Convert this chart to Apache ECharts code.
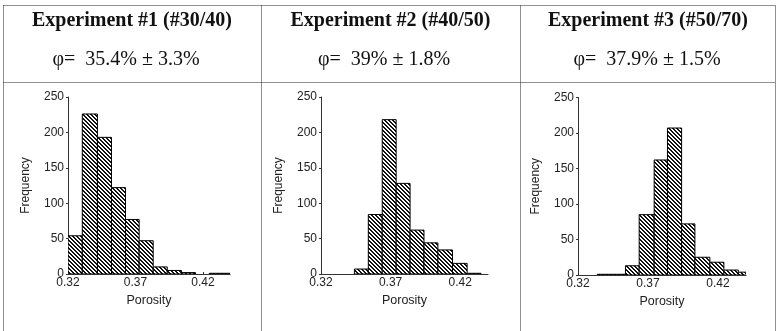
<!DOCTYPE html>
<html>
<head>
<meta charset="utf-8">
<script src="https://cdn.jsdelivr.net/npm/echarts@6/dist/echarts.min.js"></script>
<style>
html,body{margin:0;padding:0;background:#fff;}
#chart{width:778px;height:331px;}
</style>
</head>
<body>
<div id="chart"></div>
<script>
// ---- Data ----
const experimentTitles = ["Experiment #1 (#30/40)", "Experiment #2 (#40/50)", "Experiment #3 (#50/70)"];
const porosityTexts = ["\u03c6=  35.4% \u00b1 3.3%", "\u03c6=  39% \u00b1 1.8%", "\u03c6=  37.9% \u00b1 1.5%"];

// bin edges (porosity) and frequencies for each experiment
const exp1Edges = [0.32, 0.3306, 0.3418, 0.3522, 0.3626, 0.3727, 0.3831, 0.3935, 0.4041, 0.4145, 0.4247, 0.435, 0.445];
const exp1Freq  = [54, 226, 193, 122, 77, 47, 10, 5, 2, 0, 1, 1];

const exp2Edges = [0.344, 0.354, 0.364, 0.374, 0.384, 0.394, 0.404, 0.4145, 0.425, 0.435];
const exp2Freq  = [7, 84, 218, 128, 62, 44, 34, 15, 1];

const exp3Edges = [0.3338, 0.3439, 0.3539, 0.3637, 0.3744, 0.3839, 0.394, 0.4035, 0.4142, 0.4242, 0.4345, 0.4445];
const exp3Freq  = [1, 1, 13, 85, 162, 207, 72, 25, 18, 7, 4];

const xTicks = [0.32, 0.37, 0.42];
const yTicks = [0, 50, 100, 150, 200, 250];
const xName = "Porosity";
const yName = "Frequency";

// ---- Build chart ----
const hatch = document.createElement('canvas');
hatch.width = 4; hatch.height = 4;
(function(){
  const c = hatch.getContext('2d');
  c.fillStyle = '#fff'; c.fillRect(0,0,4,4);
  c.fillStyle = '#111';
  for (let i = 0; i < 4; i++) {
    c.fillRect(i, i, 1, 1);
    c.fillRect((i + 1) % 4, i, 1, 1);
  }
})();
const hatchPattern = { image: hatch, repeat: 'repeat' };

const experiments = [
  { edges: exp1Edges, freq: exp1Freq },
  { edges: exp2Edges, freq: exp2Freq },
  { edges: exp3Edges, freq: exp3Freq }
];

const gridBoxes = [
  { left: 68, top: 97, width: 162, height: 177 },
  { left: 321, top: 97, width: 167, height: 177 },
  { left: 578, top: 97.5, width: 168, height: 177.5 }
];

const axisFont = 'Liberation Sans, Arial, Helvetica, sans-serif';
const serif = 'Liberation Serif, Times New Roman, serif';

function renderItem(params, api) {
  const x0 = api.value(0), x1 = api.value(1), y = api.value(2);
  if (!(y > 0)) return null;
  const p0 = api.coord([x0, y]);
  const p1 = api.coord([x1, 0]);
  return {
    type: 'rect',
    shape: { x: p0[0], y: p0[1], width: p1[0] - p0[0], height: p1[1] - p0[1] },
    style: { fill: hatchPattern, stroke: '#000', lineWidth: 1 }
  };
}

const grids = [], xAxes = [], yAxes = [], series = [];
experiments.forEach((e, i) => {
  grids.push(Object.assign({ containLabel: false }, gridBoxes[i]));
  xAxes.push({
    type: 'value', gridIndex: i, min: 0.32, max: 0.44,
    name: xName, nameLocation: 'middle', nameGap: 19,
    nameTextStyle: { fontFamily: axisFont, fontSize: 12.5, color: '#222' },
    axisLine: { show: true, lineStyle: { color: '#333', width: 1 } },
    axisTick: { show: true, inside: true, length: 2, customValues: xTicks, lineStyle: { color: '#333' } },
    axisLabel: { customValues: xTicks, margin: 3, fontFamily: axisFont, fontSize: 12, color: '#222',
                 formatter: v => v.toFixed(2) },
    splitLine: { show: false }
  });
  yAxes.push({
    type: 'value', gridIndex: i, min: 0, max: 250,
    name: yName, nameLocation: 'middle', nameGap: 36,
    nameTextStyle: { fontFamily: axisFont, fontSize: 12, color: '#222' },
    axisLine: { show: true, lineStyle: { color: '#333', width: 1 } },
    axisTick: { show: true, length: 2, customValues: yTicks, lineStyle: { color: '#333' } },
    axisLabel: { customValues: yTicks, margin: 4, fontFamily: axisFont, fontSize: 12, color: '#222' },
    splitLine: { show: false }
  });
  const data = e.freq.map((f, k) => [e.edges[k], e.edges[k + 1], f]);
  series.push({
    type: 'custom', xAxisIndex: i, yAxisIndex: i, clip: true,
    renderItem: renderItem, data: data,
    encode: { x: [0, 1], y: 2 }, animation: false, silent: true
  });
});

// table borders (dotted)
const dash = { stroke: '#222', lineWidth: 1, lineDash: [1, 1] };
function line(x1, y1, x2, y2) {
  return { type: 'line', shape: { x1, y1, x2, y2 }, style: Object.assign({}, dash), silent: true };
}
const colCenters = [132, 390.5, 648];
const line2Centers = [126, 384, 647];
const graphics = [
  line(3.5, 5.5, 775.5, 5.5),
  line(3.5, 5.5, 3.5, 331),
  line(775.5, 5.5, 775.5, 331),
  line(3.5, 82.5, 775.5, 82.5),
  line(261.5, 5.5, 261.5, 331),
  line(520.5, 5.5, 520.5, 331)
];
experimentTitles.forEach((t, i) => {
  graphics.push({
    type: 'text', silent: true,
    style: { text: t, x: colCenters[i], y: 20.5, align: 'center', verticalAlign: 'middle',
             textAlign: 'center', textVerticalAlign: 'middle',
             font: 'bold 20px ' + serif, fill: '#111' }
  });
  graphics.push({
    type: 'text', silent: true,
    style: { text: porosityTexts[i], x: line2Centers[i], y: 60, align: 'center', verticalAlign: 'middle',
             textAlign: 'center', textVerticalAlign: 'middle',
             font: '20px ' + serif, fill: '#111' }
  });
});

const chart = echarts.init(document.getElementById('chart'), null, { renderer: 'canvas' });
chart.setOption({
  animation: false,
  backgroundColor: '#fff',
  grid: grids, xAxis: xAxes, yAxis: yAxes, series: series,
  graphic: graphics
});
</script>
</body>
</html>
